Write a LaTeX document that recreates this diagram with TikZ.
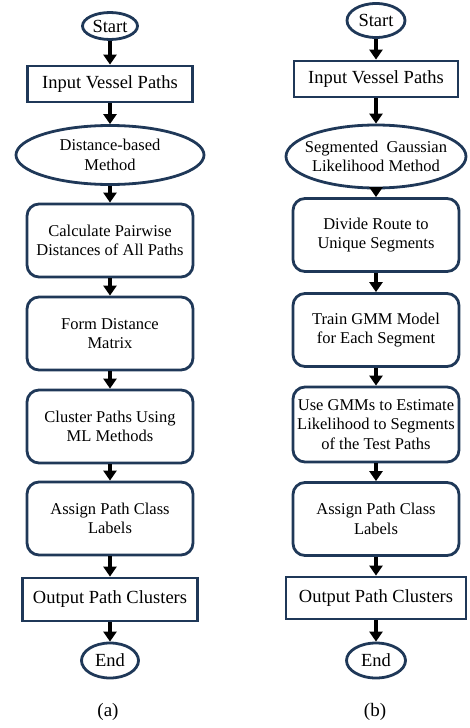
\documentclass[tikz,border=0pt]{standalone}
\usepackage{fontspec}
\setmainfont{Liberation Serif}
\usetikzlibrary{arrows.meta,shapes.geometric}
\definecolor{boxline}{RGB}{31,56,88}
\tikzset{
  big/.style={font=\fontsize{18.5}{21}\selectfont},
  small/.style={font=\fontsize{16.5}{19.5}\selectfont, align=center},
  term/.style={draw=boxline, line width=2.8pt, ellipse, inner sep=0pt},
  io/.style={draw=boxline, line width=2.8pt, rectangle, inner sep=0pt, big},
  proc/.style={draw=boxline, line width=2.8pt, rectangle, rounded corners=12pt,
    inner sep=0pt, minimum width=166pt, minimum height=73pt, small},
  arr/.style={line width=4pt, -{Triangle[length=10pt,width=13pt]}}
}
\begin{document}
\begin{tikzpicture}[x=1pt,y=-1pt]
			\useasboundingbox (0,0) rectangle (470,728);
			
			%%%%% LEFT %%%%%
			
			\node[term, minimum width=55pt, minimum height=27pt, label={[big]center:Start}] (startA) at (110, 26) {};
			\node[io, minimum width=165pt, minimum height=36pt] (inA) at (110, 84) {Input Vessel Paths};
			\node[term, minimum width=188pt, minimum height=59pt, label={[small]center:Distance-based\\Method}] (methA) at (110, 155) {};
			\node[proc] (a1) at (110, 240.5) {Calculate Pairwise\\Distances of All Paths};
			\node[proc] (a2) at (110, 333.5) {Form Distance\\Matrix};
			\node[proc] (a3) at (110, 426.5) {Cluster Paths Using\\ML Methods};
			\node[proc] (a4) at (110, 518.5) {Assign Path Class\\Labels};
			\node[io, minimum width=175pt, minimum height=43pt] (outA) at (110, 599.5) {Output Path Clusters};
			\node[term, minimum width=57pt, minimum height=35pt, label={[big]center:End}] (endA) at (110, 660.5) {};
			\node[font=\fontsize{19}{22}\selectfont] (capA) at (108, 712) {(a)};
			
			\draw[arr] (startA) -- (inA);
			\draw[arr] (inA) -- (methA);
			\draw[arr] (methA) -- (a1);
			\draw[arr] (a1) -- (a2);
			\draw[arr] (a2) -- (a3);
			\draw[arr] (a3) -- (a4);
			\draw[arr] (a4) -- (outA);
			\draw[arr] (outA) -- (endA);
			
			%%%%% RIGHT %%%%%
			
			\node[term, minimum width=58pt, minimum height=34pt, label={[big]center:Start}] (startB) at (376, 20.5) {};
			\node[io, minimum width=164pt, minimum height=36pt] (inB) at (376, 79) {Input Vessel Paths};
			\node[term, minimum width=180pt, minimum height=63pt, label={[small]center:Segmented~~Gaussian\\Likelihood Method}] (methB) at (376, 156.5) {};
			\node[proc] (b1) at (376, 235) {Divide Route to\\Unique Segments};
			\node[proc] (b2) at (376, 330) {Train GMM Model\\for Each Segment};
			\node[proc, minimum height=75pt] (b3) at (376, 424.5) {Use GMMs to Estimate\\Likelihood to Segments\\of the Test Paths};
			\node[proc] (b4) at (376, 519) {Assign Path Class\\Labels};
			\node[io, minimum width=180pt, minimum height=42pt] (outB) at (376, 598) {Output Path Clusters};
			\node[term, minimum width=59pt, minimum height=35pt, label={[big]center:End}] (endB) at (376, 660.5) {};
			\node[font=\fontsize{19}{22}\selectfont] (capB) at (375, 712) {(b)};
			
			\draw[arr] (startB) -- (inB);
			\draw[arr] (inB) -- (methB);
			\draw[arr] (methB) -- (b1);
			\draw[arr] (b1) -- (b2);
			\draw[arr] (b2) -- (b3);
			\draw[arr] (b3) -- (b4);
			\draw[arr] (b4) -- (outB);
			\draw[arr] (outB) -- (endB);
			
			%%%%% END %%%%%
\end{tikzpicture}
\end{document}
